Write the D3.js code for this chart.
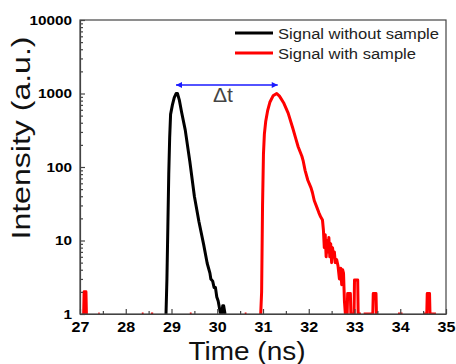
<!DOCTYPE html>
<html>
<head>
<meta charset="utf-8">
<script src="https://cdn.jsdelivr.net/npm/d3@7"></script>
<style>
  html, body { margin: 0; padding: 0; background: #fff; }
  svg { display: block; font-family: "Liberation Sans", Arial, sans-serif; }
</style>
</head>
<body>
<div id="chart"></div>
<script>
// x ticks (ns) and y decades
const xTicks = [27, 28, 29, 30, 31, 32, 33, 34, 35];
const xMinorTicks = [27.5, 28.5, 29.5, 30.5, 31.5, 32.5, 33.5, 34.5];
const yTicks = [1, 10, 100, 1000, 10000];

// signal without sample: [time ns, counts]; 0 = no counts (gap)
const blackTime = [28.88, 28.90, 28.92, 28.94, 28.96, 28.98, 29.02, 29.06, 29.10, 29.13, 29.17, 29.22, 29.30, 29.40, 29.50, 29.60, 29.70, 29.78, 29.84, 29.86, 29.90, 29.93, 29.96, 29.99, 30.02, 30.06, 30.08, 30.10, 30.12, 30.14, 30.17, 30.19];
const blackVal  = [1,     3,     15,    80,    250,   520,   700,   880,   1000,  1000,  820,   560,   320,   120,   40,    18,    9,     4.9,   3.6,   3.0,   2.8,   2.3,   2.3,   1.7,   1.5,   1.1,   1.0,   1.0,   1.3,   1.3,   1.0,   1];

// signal with sample
const redTime = [27.06, 27.08, 27.09, 27.13, 27.14, 27.16, 27.17,
  27.40, 27.43, 27.44, 28.35, 28.39, 28.40, 28.55, 28.60, 28.61, 29.40, 29.44, 29.45,
  30.60, 30.64, 30.65,
  30.95, 30.97, 30.99, 31.01, 31.03, 31.06, 31.10, 31.15, 31.22, 31.30, 31.36, 31.45, 31.55, 31.65, 31.72, 31.77, 31.85, 31.88, 31.92, 31.98, 32.05, 32.08, 32.12, 32.18, 32.22, 32.26, 32.30,
  32.32, 32.34, 32.36, 32.38, 32.40, 32.42, 32.44, 32.46, 32.48, 32.50, 32.52, 32.54, 32.56, 32.58, 32.61, 32.64, 32.67, 32.70, 32.72, 32.74, 32.76, 32.78, 32.80, 32.84,
  32.85, 32.86, 32.91, 32.92, 32.96, 32.99, 33.00, 33.07, 33.08, 33.14, 33.15,
  33.20, 33.36, 33.40, 33.41, 33.47, 33.48, 33.50, 33.51,
  33.95, 34.05, 34.06, 34.50, 34.58, 34.59, 34.64, 34.65, 34.75, 34.78, 34.79];
const redVal = [0, 1, 2, 2, 1, 1, 0,
  1, 1, 0, 1, 1, 0, 1, 1, 0, 1, 1, 0,
  1, 1, 0,
  1, 2, 30, 150, 280, 420, 580, 760, 930, 1000, 920, 750, 540, 340, 240, 187, 140, 120, 90, 66, 52, 45, 35, 28, 24, 21, 19,
  14, 8, 12, 6, 10, 7, 11, 6, 9, 5, 8, 6, 7, 5, 5.5, 4.5, 3, 4.2, 2.5, 4, 3.6, 1.5, 1, 1,
  1.9, 1.9, 1.9, 1, 1, 1, 2.9, 2.9, 1, 1, 0,
  1, 1, 1, 1.9, 1.9, 1, 1, 0,
  1, 1, 0, 1, 1, 1.9, 1.9, 1, 1, 1, 0];

const seriesNames = ['Signal without sample', 'Signal with sample'];
const seriesColors = ['#000000', '#ff0000'];

const width = 456, height = 364;
const margin = { top: 20, right: 10, bottom: 50, left: 80 };
const plotW = width - margin.left - margin.right;   // 366
const plotH = height - margin.top - margin.bottom;  // 294

const x = d3.scaleLinear().domain([27, 35]).range([margin.left, margin.left + plotW]);
const y = d3.scaleLog().domain([1, 10000]).range([margin.top + plotH, margin.top]);

const svg = d3.select('#chart').append('svg')
  .attr('width', width)
  .attr('height', height);

svg.append('defs').append('clipPath')
  .attr('id', 'plot-clip')
  .append('rect')
  .attr('x', margin.left)
  .attr('y', margin.top - 2)
  .attr('width', plotW)
  .attr('height', plotH + 2);

const line = d3.line()
  .defined(d => d[1] > 0)
  .x(d => x(d[0]))
  .y(d => y(d[1]));

const blackData = blackTime.map((t, i) => [t, blackVal[i]]);
const redData = redTime.map((t, i) => [t, redVal[i]]);

const curves = svg.append('g').attr('clip-path', 'url(#plot-clip)');
[redData, blackData].forEach((data, i) => {
  curves.append('path')
    .datum(data)
    .attr('fill', 'none')
    .attr('stroke', i === 0 ? seriesColors[1] : seriesColors[0])
    .attr('stroke-width', 3)
    .attr('stroke-linejoin', 'round')
    .attr('d', line);
});

// axes (ticks point inward)
const axisColor = '#444';
const xAxis = svg.append('g')
  .attr('transform', `translate(0,${margin.top + plotH})`)
  .call(d3.axisBottom(x).tickValues(xTicks).tickFormat(d3.format('d')).tickSizeInner(-5).tickSizeOuter(0).tickPadding(8));
svg.append('g')
  .attr('transform', `translate(0,${margin.top + plotH})`)
  .call(d3.axisBottom(x).tickValues(xMinorTicks).tickFormat('').tickSizeInner(-3).tickSizeOuter(0))
  .call(g => g.select('.domain').remove());

const yMinor = [];
[1, 10, 100, 1000].forEach(base => {
  for (let k = 2; k <= 9; k++) yMinor.push(base * k);
});
const yAxis = svg.append('g')
  .attr('transform', `translate(${margin.left},0)`)
  .call(d3.axisLeft(y).tickValues(yTicks).tickFormat(d3.format('d')).tickSizeInner(-5).tickSizeOuter(0).tickPadding(8));
svg.append('g')
  .attr('transform', `translate(${margin.left},0)`)
  .call(d3.axisLeft(y).tickValues(yMinor).tickFormat('').tickSizeInner(-3).tickSizeOuter(0))
  .call(g => g.select('.domain').remove());

svg.selectAll('.domain, .tick line').attr('stroke', axisColor).attr('stroke-width', 1.2);
svg.selectAll('.tick text')
  .attr('fill', '#000')
  .attr('font-family', '"Liberation Sans", Arial, sans-serif')
  .attr('font-weight', 'bold');
xAxis.selectAll('.tick text')
  .attr('font-size', 14)
  .attr('transform', 'scale(1.15,1)');
yAxis.selectAll('.tick text')
  .attr('font-size', 13)
  .attr('x', -8 / 1.18)
  .attr('transform', 'scale(1.18,1)');

// frame
svg.append('rect')
  .attr('x', margin.left)
  .attr('y', margin.top)
  .attr('width', plotW)
  .attr('height', plotH)
  .attr('fill', 'none')
  .attr('stroke', axisColor)
  .attr('stroke-width', 1.2);

// axis titles
svg.append('text')
  .attr('transform', `translate(30,${margin.top + 118}) rotate(-90)`)
  .attr('text-anchor', 'middle')
  .attr('font-size', 26)
  .attr('textLength', 203)
  .attr('lengthAdjust', 'spacingAndGlyphs')
  .attr('fill', '#111')
  .text('Intensity (a.u.)');

svg.append('text')
  .attr('x', 247)
  .attr('y', 360)
  .attr('text-anchor', 'middle')
  .attr('font-size', 25)
  .attr('textLength', 117)
  .attr('lengthAdjust', 'spacingAndGlyphs')
  .attr('fill', '#111')
  .text('Time (ns)');

// legend
const legendWidths = [161, 138];
seriesNames.forEach((name, i) => {
  const ly = 33 + i * 20;
  svg.append('line')
    .attr('x1', 235).attr('x2', 273)
    .attr('y1', ly).attr('y2', ly)
    .attr('stroke', seriesColors[i])
    .attr('stroke-width', 3);
  svg.append('text')
    .attr('x', 278)
    .attr('y', ly + 6)
    .attr('font-size', 14)
    .attr('textLength', legendWidths[i])
    .attr('lengthAdjust', 'spacingAndGlyphs')
    .attr('fill', '#222')
    .text(name);
});

// delta t arrow between the two peaks
const peakBlack = 29.12, peakRed = 31.3;
const arrowY = 85;
const defs = svg.select('defs');
['start', 'end'].forEach(k => {
  defs.append('marker')
    .attr('id', 'arrow-' + k)
    .attr('viewBox', '0 -5 10 10')
    .attr('refX', k === 'end' ? 10 : 0)
    .attr('refY', 0)
    .attr('markerWidth', 8)
    .attr('markerHeight', 6)
    .attr('markerUnits', 'userSpaceOnUse')
    .attr('orient', 'auto')
    .append('path')
    .attr('fill', '#1a1aff')
    .attr('d', k === 'end' ? 'M0,-5L10,0L0,5Z' : 'M10,-5L0,0L10,5Z');
});
svg.append('line')
  .attr('x1', x(peakBlack) - 1)
  .attr('x2', x(peakRed) + 1)
  .attr('y1', arrowY).attr('y2', arrowY)
  .attr('stroke', '#1a1aff')
  .attr('stroke-width', 1.5)
  .attr('marker-start', 'url(#arrow-start)')
  .attr('marker-end', 'url(#arrow-end)');
svg.append('text')
  .attr('x', 213)
  .attr('y', 102)
  .attr('font-size', 20)
  .attr('textLength', 20)
  .attr('lengthAdjust', 'spacingAndGlyphs')
  .attr('fill', '#444')
  .text('Δt');
</script>
</body>
</html>
